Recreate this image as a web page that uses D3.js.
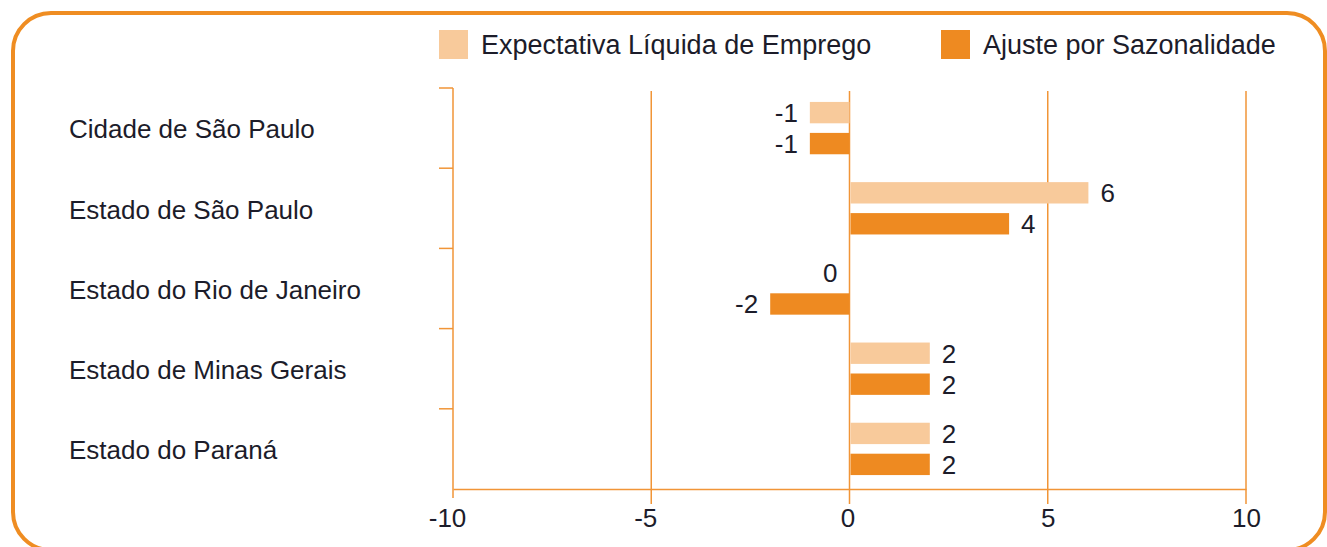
<!DOCTYPE html>
<html lang="pt">
<head>
    <meta charset="UTF-8">
    <title>Expectativa Líquida de Emprego</title>
    <script src="https://d3js.org/d3.v7.min.js"></script>
    <style>
        html, body {
            margin: 0;
            padding: 0;
            background: #ffffff;
        }
        body {
            font-family: "Liberation Sans", Arial, Helvetica, sans-serif;
        }
        svg text {
            fill: #1c1c2a;
        }
    </style>
</head>
<body>
    <div id="chart"></div>
    <script>
        // data
        const categories = [
            'Cidade de São Paulo',
            'Estado de São Paulo',
            'Estado do Rio de Janeiro',
            'Estado de Minas Gerais',
            'Estado do Paraná'
        ];
        const seriesNames = ['Expectativa Líquida de Emprego', 'Ajuste por Sazonalidade'];
        const expectativa = [-1, 6, 0, 2, 2];
        const ajuste = [-1, 4, -2, 2, 2];
        const xTicks = [-10, -5, 0, 5, 10];

        const width = 1327;
        const height = 547;
        const colors = ['#f8ca9b', '#ee8a21'];
        const lineColor = '#f19537';
        const fontSize = 26;

        const svg = d3.select('#chart')
            .append('svg')
            .attr('width', width)
            .attr('height', height);

        // rounded frame
        svg.append('rect')
            .attr('x', 13)
            .attr('y', 13)
            .attr('width', 1312)
            .attr('height', 537)
            .attr('rx', 38)
            .attr('ry', 38)
            .attr('fill', 'none')
            .attr('stroke', '#ef8d22')
            .attr('stroke-width', 4);

        const x = d3.scaleLinear().domain([-10, 10]).range([453, 1246]);
        const y = d3.scaleBand().domain(categories).range([88, 489]);
        const inner = d3.scaleBand().domain([0, 1]).range([0, y.bandwidth()])
            .paddingInner(0.31).paddingOuter(0.45);

        const plotTop = 88, plotBottom = 489;

        // vertical grid lines
        svg.append('g')
            .selectAll('line')
            .data(xTicks.filter(d => d !== -10))
            .enter().append('line')
            .attr('x1', d => x(d))
            .attr('x2', d => x(d))
            .attr('y1', plotTop + 3)
            .attr('y2', plotBottom + 15)
            .attr('stroke', lineColor)
            .attr('stroke-width', 1.5);

        // bars
        const table = categories.map((c, i) => ({ cat: c, values: [expectativa[i], ajuste[i]] }));

        const groups = svg.append('g')
            .selectAll('g')
            .data(table)
            .enter().append('g')
            .attr('transform', d => `translate(0,${y(d.cat)})`);

        groups.selectAll('rect')
            .data(d => d.values.map((v, k) => ({ v, k })))
            .enter().append('rect')
            .attr('x', d => x(Math.min(0, d.v)) + (d.v > 0 ? 1 : 0))
            .attr('width', d => Math.abs(x(d.v) - x(0)))
            .attr('y', d => inner(d.k))
            .attr('height', inner.bandwidth())
            .attr('fill', d => colors[d.k]);

        groups.selectAll('text')
            .data(d => d.values.map((v, k) => ({ v, k })))
            .enter().append('text')
            .attr('x', d => d.v > 0 ? x(d.v) + 13 : x(d.v) - 12)
            .attr('y', d => inner(d.k) + inner.bandwidth() / 2)
            .attr('dy', '0.36em')
            .attr('text-anchor', d => d.v > 0 ? 'start' : 'end')
            .style('font-size', fontSize + 'px')
            .text(d => d.v);

        // y axis (left line with ticks between categories)
        const yAxis = svg.append('g');
        yAxis.append('line')
            .attr('x1', x(-10)).attr('x2', x(-10))
            .attr('y1', plotTop).attr('y2', plotBottom + 9)
            .attr('stroke', lineColor).attr('stroke-width', 1.5);
        yAxis.selectAll('.ytick')
            .data(categories)
            .enter().append('line')
            .attr('class', 'ytick')
            .attr('x1', x(-10) - 14).attr('x2', x(-10))
            .attr('y1', d => y(d)).attr('y2', d => y(d))
            .attr('stroke', lineColor).attr('stroke-width', 1.5);

        // x axis
        const xAxis = svg.append('g')
            .attr('transform', `translate(0,${plotBottom})`)
            .call(d3.axisBottom(x).tickValues(xTicks).tickFormat(d => String(d))
                .tickSize(0).tickPadding(38).tickSizeOuter(0));
        xAxis.select('.domain')
            .attr('stroke', lineColor)
            .attr('stroke-width', 1.5);
        xAxis.selectAll('text')
            .style('font-size', fontSize + 'px')
            .style('font-family', '"Liberation Sans", Arial, sans-serif')
            .attr('fill', '#1c1c2a')
            .attr('dx', d => d < 0 ? -6 : (d === 0 ? -2 : 0))
            .attr('dy', 0);

        // category labels
        svg.append('g')
            .selectAll('text')
            .data(categories)
            .enter().append('text')
            .attr('x', 69)
            .attr('y', d => y(d) + y.bandwidth() / 2 + 1)
            .attr('dy', '0.36em')
            .style('font-size', fontSize + 'px')
            .text(d => d);

        // legend
        const legendX = [439, 941];
        const legend = svg.append('g')
            .selectAll('g')
            .data(seriesNames)
            .enter().append('g')
            .attr('transform', (d, i) => `translate(${legendX[i]},30)`);
        legend.append('rect')
            .attr('width', 29)
            .attr('height', 29)
            .attr('fill', (d, i) => colors[i]);
        legend.append('text')
            .attr('x', 42)
            .attr('y', 14.5)
            .attr('dy', '0.36em')
            .style('font-size', '27px')
            .text(d => d);
    </script>
</body>
</html>
